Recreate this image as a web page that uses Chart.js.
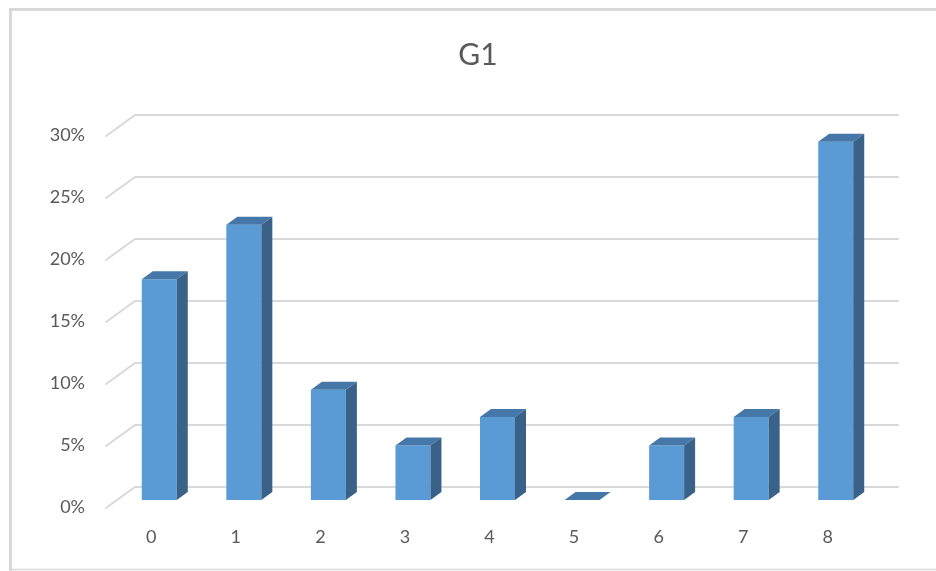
<!DOCTYPE html>
<html>
<head>
<meta charset="utf-8">
<title>G1</title>
<script src="https://cdn.jsdelivr.net/npm/chart.js@4/dist/chart.umd.min.js"></script>
<style>
  html, body { margin: 0; padding: 0; background: #ffffff; }
  #wrap { width: 936px; height: 571px; position: relative; }
</style>
</head>
<body>
<div id="wrap"><canvas id="chart" width="936" height="571"></canvas></div>
<script>
// Category labels along the bottom axis
const categories = ['0', '1', '2', '3', '4', '5', '6', '7', '8'];
// Share of each category (fraction of the total)
const shares = [0.178, 0.222, 0.089, 0.044, 0.067, 0, 0.044, 0.067, 0.289];
// Value axis ticks
const valueTicks = [0, 0.05, 0.10, 0.15, 0.20, 0.25, 0.30];

const TEXT = '#595959';
const GRID = '#d9d9d9';
const FRONT = '#5b9bd5';
const TOP = '#4677a9';
const SIDE = '#3a6288';
const FONT = 'Lato, "Open Sans", sans-serif';

// Oblique depth: from the bar plane towards the viewer and towards the back wall
const TO_FRONT = { dx: -11, dy: 8 };
const TO_BACK = { dx: 18, dy: -13 };
const BAR_DEPTH = { dx: 11, dy: -8 };

// White card with a light frame on the left, top and bottom
const framePlugin = {
  id: 'frame',
  beforeDraw(chart) {
    const c = chart.ctx;
    c.save();
    c.fillStyle = '#ffffff';
    c.fillRect(0, 0, chart.width, chart.height);
    c.strokeStyle = GRID;
    c.lineWidth = 3;
    c.beginPath();
    c.moveTo(10.5, chart.height);
    c.lineTo(10.5, 9.5);
    c.lineTo(chart.width, 9.5);
    c.stroke();
    c.lineWidth = 1.5;
    c.beginPath();
    c.moveTo(9, 569.5);
    c.lineTo(chart.width, 569.5);
    c.stroke();
    c.restore();
  }
};

// Back-wall gridlines with their slanted side-wall segments
const wallPlugin = {
  id: 'wall',
  beforeDatasetsDraw(chart) {
    const c = chart.ctx;
    const y = chart.scales.y;
    const area = chart.chartArea;
    c.save();
    c.strokeStyle = GRID;
    c.lineWidth = 2;
    c.lineCap = 'round';
    valueTicks.forEach(v => {
      const py = y.getPixelForValue(v);
      c.beginPath();
      c.moveTo(area.left + TO_FRONT.dx, py + TO_FRONT.dy);
      c.lineTo(area.left + TO_BACK.dx, py + TO_BACK.dy);
      c.lineTo(area.right + TO_BACK.dx + 2, py + TO_BACK.dy);
      c.stroke();
    });
    c.restore();
  }
};

// Top and side faces that give each column its depth
const columnPlugin = {
  id: 'columns3d',
  afterDatasetsDraw(chart) {
    const c = chart.ctx;
    const meta = chart.getDatasetMeta(0);
    c.save();
    meta.data.forEach(bar => {
      const p = bar.getProps(['x', 'y', 'base', 'width'], true);
      const l = p.x - p.width / 2;
      const r = p.x + p.width / 2;
      const t = p.y;
      const b = p.base;
      // top face
      c.fillStyle = TOP;
      c.beginPath();
      c.moveTo(l, t);
      c.lineTo(l + BAR_DEPTH.dx, t + BAR_DEPTH.dy);
      c.lineTo(r + BAR_DEPTH.dx, t + BAR_DEPTH.dy);
      c.lineTo(r, t);
      c.closePath();
      c.fill();
      // right side face
      if (b - t > 0.5) {
        c.fillStyle = SIDE;
        c.beginPath();
        c.moveTo(r, t);
        c.lineTo(r + BAR_DEPTH.dx, t + BAR_DEPTH.dy);
        c.lineTo(r + BAR_DEPTH.dx, b + BAR_DEPTH.dy);
        c.lineTo(r, b);
        c.closePath();
        c.fill();
      }
    });
    c.restore();
  }
};

new Chart(document.getElementById('chart'), {
  type: 'bar',
  data: {
    labels: categories,
    datasets: [{
      label: 'G1',
      data: shares,
      backgroundColor: FRONT,
      borderWidth: 0,
      barPercentage: 0.414,
      categoryPercentage: 1.0
    }]
  },
  plugins: [framePlugin, wallPlugin, columnPlugin],
  options: {
    responsive: false,
    animation: false,
    devicePixelRatio: 1,
    layout: { padding: { left: 20, right: 0, top: 0, bottom: 0 } },
    plugins: {
      legend: { display: false },
      tooltip: { enabled: false },
      title: {
        display: true,
        text: 'G1',
        color: TEXT,
        font: { family: FONT, size: 30, weight: 'normal', lineHeight: 1.2 },
        padding: { top: 37, bottom: 55 }
      }
    },
    scales: {
      x: {
        grid: { display: false, drawTicks: false },
        border: { display: false },
        ticks: {
          color: TEXT,
          font: { family: FONT, size: 18 },
          padding: 26,
          labelOffset: -8,
          maxRotation: 0
        },
        afterFit(scale) { scale.height = 71; }
      },
      y: {
        min: 0,
        max: 0.3,
        grid: { display: false, drawTicks: false },
        border: { display: false },
        afterBuildTicks(scale) {
          scale.ticks = valueTicks.map(v => ({ value: v }));
        },
        ticks: {
          color: TEXT,
          font: { family: FONT, size: 18 },
          padding: 32,
          labelOffset: 7,
          callback: v => Math.round(v * 100) + '%'
        },
        afterFit(scale) { scale.width = 97; }
      },
      // empty margin on the right of the plot
      yRight: {
        position: 'right',
        min: 0,
        max: 0.3,
        grid: { display: false, drawTicks: false },
        border: { display: false },
        ticks: { display: false },
        afterFit(scale) { scale.width = 58; }
      }
    }
  }
});
</script>
</body>
</html>
